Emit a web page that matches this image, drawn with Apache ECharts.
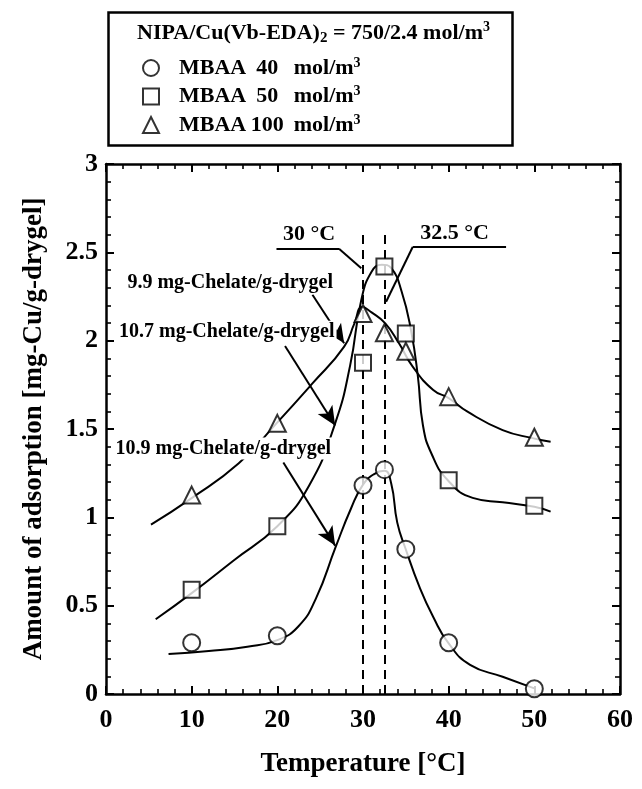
<!DOCTYPE html>
<html lang="en">
<head>
<meta charset="UTF-8">
<title>Amount of adsorption vs temperature</title>
<script src="https://cdn.jsdelivr.net/npm/echarts@6/dist/echarts.min.js"></script>
<style>
  html, body { margin: 0; padding: 0; background: #fff; }
  #main { width: 642px; height: 789px; }
</style>
</head>
<body>
<div id="main"></div>
<script type="text/javascript">
// measured points
var temps = [10, 20, 30, 32.5, 35, 40, 50];
var mbaa40 = [0.29, 0.33, 1.18, 1.27, 0.82, 0.29, 0.03];
var mbaa50 = [0.59, 0.95, 1.875, 2.42, 2.04, 1.21, 1.065];
var mbaa100 = [1.126, 1.532, 2.154, 2.045, 1.94, 1.683, 1.453];

// hand drawn guide curves
var curve40X = [7.3, 12, 16.5, 20, 22.5, 24.5, 26.8, 28.6, 30.0, 31.3, 32.5, 33.3, 34.0, 35.0, 36.6, 38.2, 40.0, 42.5, 46.3, 50.0];
var curve40Y = [0.226, 0.243, 0.268, 0.305, 0.385, 0.54, 0.831, 1.05, 1.185, 1.245, 1.263, 1.19, 0.97, 0.818, 0.605, 0.436, 0.286, 0.165, 0.098, 0.032];
var curve50X = [5.8, 10, 14.9, 20, 23.7, 26.75, 28.5, 29.8, 31.0, 32.2, 33.3, 34.5, 35.6, 36.4, 37.0, 38.0, 39.9, 42.8, 46.3, 50.0, 51.9];
var curve50Y = [0.423, 0.571, 0.756, 0.95, 1.179, 1.532, 1.86, 2.23, 2.39, 2.43, 2.41, 2.28, 2.06, 1.80, 1.52, 1.36, 1.21, 1.11, 1.085, 1.06, 1.032];
var curve100X = [5.25, 10, 15.5, 19.9, 24.1, 27.8, 29.0, 29.9, 31.0, 32.6, 34.2, 35.8, 38.2, 40.0, 42.2, 46.3, 49.9, 51.9];
var curve100Y = [0.959, 1.109, 1.306, 1.532, 1.758, 1.966, 2.098, 2.19, 2.16, 2.098, 1.985, 1.853, 1.721, 1.675, 1.598, 1.494, 1.447, 1.428];

var legendNums = ['40', '50', '100'];
var seriesNames = ['MBAA 40', 'MBAA 50', 'MBAA 100'];

// annotations, in data coordinates
var transTemps = [30, 32.5];
var transTop = 2.62;
var leader30 = [[19.9, 2.52], [27.2, 2.52], [29.8, 2.41]];
var leader325 = [[46.7, 2.53], [35.8, 2.53], [32.7, 2.22]];
var arrow99 = [[24.1, 2.26], [27.8, 1.985]];
var arrow107 = [[20.9, 1.97], [26.75, 1.52]];
var arrow109 = [[20.7, 1.31], [26.75, 0.84]];
var noteTexts = ['30 °C', '32.5 °C', '9.9 mg-Chelate/g-drygel', '10.7 mg-Chelate/g-drygel', '10.9 mg-Chelate/g-drygel'];
var notePos = [[23.7, 2.6], [40.7, 2.61], [14.5, 2.325], [14.1, 2.05], [13.7, 1.39]];

var serif = "'Liberation Serif', 'Times New Roman', serif";

function pairs(xs, ys) {
    var out = [];
    for (var i = 0; i < xs.length; i++) {
        out.push([xs[i], ys[i]]);
    }
    return out;
}

function segs(pts) {
    var out = [];
    for (var i = 0; i < pts.length - 1; i++) {
        out.push([{coord: pts[i]}, {coord: pts[i + 1]}]);
    }
    return out;
}

function arrowSeg(pts) {
    return [{coord: pts[0]}, {coord: pts[1], symbol: 'arrow', symbolSize: [13, 19]}];
}

var myChart = echarts.init(document.getElementById('main'));

var tickLabel = {color: '#000', fontFamily: serif, fontWeight: 'bold', fontSize: 26};

function frameAxis(pos, isX, showLabel) {
    var ax = {
        type: 'value',
        position: pos,
        min: 0,
        max: isX ? 60 : 3,
        interval: isX ? 10 : 0.5,
        axisLine: {show: true, onZero: false, lineStyle: {color: '#000', width: 2.5}},
        axisTick: {show: true, inside: true, length: 8, lineStyle: {color: '#000', width: 2}},
        minorTick: {show: true, splitNumber: 5, length: 5, lineStyle: {color: '#000', width: 1.6}},
        splitLine: {show: false},
        axisLabel: showLabel ? Object.assign({margin: isX ? 13 : 8}, tickLabel) : {show: false}
    };
    return ax;
}

var xBottom = frameAxis('bottom', true, true);
xBottom.name = 'Temperature [°C]';
xBottom.nameLocation = 'middle';
xBottom.nameGap = 57;
xBottom.nameTextStyle = {color: '#000', fontFamily: serif, fontWeight: 'bold', fontSize: 27};

var yLeft = frameAxis('left', false, true);
yLeft.name = 'Amount of adsorption [mg-Cu/g-drygel]';
yLeft.nameLocation = 'middle';
yLeft.nameGap = 58;
yLeft.nameTextStyle = {color: '#000', fontFamily: serif, fontWeight: 'bold', fontSize: 27};

var markerStyle = {color: '#fff', borderColor: '#000', borderWidth: 2};
var curveStyle = {color: '#000', width: 2};

function curveSeries(xs, ys) {
    return {
        type: 'line',
        data: pairs(xs, ys),
        smooth: 0.5,
        showSymbol: false,
        silent: true,
        lineStyle: curveStyle,
        z: 2
    };
}

myChart.setOption({
    animation: false,
    grid: {left: 106, right: 22, top: 164, bottom: 95, outerBoundsMode: 'none'},
    xAxis: [xBottom, frameAxis('top', true, false)],
    yAxis: [yLeft, frameAxis('right', false, false)],
    legend: {
        orient: 'vertical',
        left: 137,
        top: 51,
        itemWidth: 16,
        itemHeight: 16,
        itemGap: 5.5,
        selectedMode: false,
        itemStyle: markerStyle,
        data: [
            {name: seriesNames[0], icon: 'circle'},
            {name: seriesNames[1], icon: 'rect'},
            {name: seriesNames[2], icon: 'triangle'}
        ],
        formatter: function (name) {
            var i = seriesNames.indexOf(name);
            return '{sp|}{m|MBAA}{n|' + legendNums[i] + '}{u| mol/m}{s|3}';
        },
        textStyle: {
            color: '#000',
            rich: {
                sp: {width: 15, lineHeight: 24},
                m: {fontFamily: serif, fontWeight: 'bold', fontSize: 22, lineHeight: 24, color: '#000'},
                n: {fontFamily: serif, fontWeight: 'bold', fontSize: 22, lineHeight: 24, width: 42, align: 'right', color: '#000'},
                u: {fontFamily: serif, fontWeight: 'bold', fontSize: 22, lineHeight: 24, color: '#000'},
                s: {fontFamily: serif, fontWeight: 'bold', fontSize: 14, lineHeight: 14, verticalAlign: 'top', color: '#000'}
            }
        }
    },
    series: [
        curveSeries(curve40X, curve40Y),
        curveSeries(curve50X, curve50Y),
        curveSeries(curve100X, curve100Y),
        {
            // transition temperatures
            type: 'line',
            data: [],
            silent: true,
            markLine: {
                silent: true,
                animation: false,
                symbol: ['none', 'none'],
                label: {show: false},
                lineStyle: {color: '#000', width: 2, type: [9, 6]},
                data: transTemps.map(function (t) {
                    return [{coord: [t, 0]}, {coord: [t, transTop]}];
                })
            }
        },
        {
            // leaders and arrows
            type: 'line',
            data: [],
            silent: true,
            markLine: {
                silent: true,
                animation: false,
                symbol: ['none', 'none'],
                label: {show: false},
                lineStyle: {color: '#000', width: 2, type: 'solid'},
                data: segs(leader30).concat(segs(leader325), [arrowSeg(arrow99), arrowSeg(arrow107), arrowSeg(arrow109)])
            }
        },
        {
            name: seriesNames[0], type: 'scatter', symbol: 'circle', symbolSize: 17,
            itemStyle: markerStyle, data: pairs(temps, mbaa40), z: 5
        },
        {
            name: seriesNames[1], type: 'scatter', symbol: 'rect', symbolSize: 16,
            itemStyle: markerStyle, data: pairs(temps, mbaa50), z: 5
        },
        {
            name: seriesNames[2], type: 'scatter', symbol: 'triangle', symbolSize: 17,
            itemStyle: markerStyle, data: pairs(temps, mbaa100), z: 5
        }
    ]
});

// legend frame, header line and note labels
var graphics = [
    {
        type: 'rect', left: 106, top: 10, z: 1, silent: true,
        shape: {width: 404, height: 133},
        style: {fill: 'none', stroke: '#000', lineWidth: 2.5}
    },
    {
        type: 'text', x: 137, y: 33, z: 10, silent: true,
        style: {
            text: '{b|NIPA/Cu(Vb-EDA)}{sub|2}{b| = 750/2.4 mol/m}{sup|3}',
            verticalAlign: 'middle',
            rich: {
                b: {fontFamily: serif, fontWeight: 'bold', fontSize: 22, lineHeight: 26, fill: '#000'},
                sub: {fontFamily: serif, fontWeight: 'bold', fontSize: 15, lineHeight: 15, verticalAlign: 'bottom', fill: '#000'},
                sup: {fontFamily: serif, fontWeight: 'bold', fontSize: 14, lineHeight: 14, verticalAlign: 'top', fill: '#000'}
            }
        }
    }
];

for (var i = 0; i < noteTexts.length; i++) {
    var p = myChart.convertToPixel({gridIndex: 0}, notePos[i]);
    graphics.push({
        type: 'text', x: p[0], y: p[1], z: 10, silent: true,
        style: {
            text: noteTexts[i],
            fontFamily: serif,
            fontWeight: 'bold',
            fontSize: i < 2 ? 22 : 20,
            fill: '#000',
            align: 'center',
            verticalAlign: 'middle',
            backgroundColor: i < 2 ? 'transparent' : '#fff',
            padding: [1, 2]
        }
    });
}

myChart.setOption({graphic: graphics});
</script>
</body>
</html>
